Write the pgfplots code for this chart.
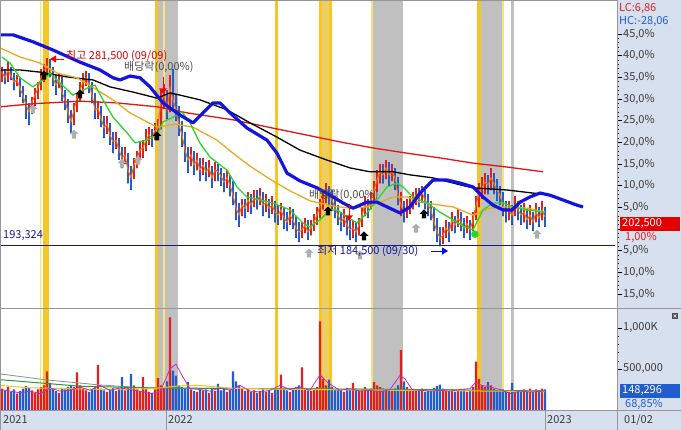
\documentclass[border=0pt]{standalone}
\usepackage{fontspec}
\setmainfont{Noto Sans CJK KR}
\usepackage{pgfplots}
\usepackage{pgfplotstable}
\pgfplotsset{compat=1.18}
\usetikzlibrary{arrows.meta}

\definecolor{cred}{RGB}{222,32,32}
\definecolor{cblue}{RGB}{34,92,205}
\definecolor{ma5}{RGB}{255,112,0}
\definecolor{ma20}{RGB}{40,215,40}
\definecolor{ma60}{RGB}{232,170,30}
\definecolor{ma240}{RGB}{228,20,20}
\definecolor{thickblue}{RGB}{20,20,225}
\definecolor{navy}{RGB}{25,25,140}
\definecolor{gold}{RGB}{246,198,36}
\definecolor{goldmid}{RGB}{238,206,100}
\definecolor{ylight}{RGB}{250,226,120}
\definecolor{band}{RGB}{192,192,192}
\definecolor{panel}{RGB}{214,224,238}
\definecolor{sep}{RGB}{150,150,150}
\definecolor{tick}{RGB}{60,60,60}
\definecolor{vmag}{RGB}{200,40,200}
\definecolor{vyel}{RGB}{240,200,20}
\definecolor{vgrn}{RGB}{40,150,60}
\definecolor{vgry}{RGB}{140,140,140}
\definecolor{arrgray}{RGB}{175,175,175}

\newcommand\tf{\fontsize{11}{12}\selectfont}

\pgfdeclareplotmark{uparr}{%
  \pgfpathmoveto{\pgfpoint{0pt}{\pgfplotmarksize}}%
  \pgfpathlineto{\pgfpoint{\pgfplotmarksize}{0pt}}%
  \pgfpathlineto{\pgfpoint{0.45\pgfplotmarksize}{0pt}}%
  \pgfpathlineto{\pgfpoint{0.45\pgfplotmarksize}{-\pgfplotmarksize}}%
  \pgfpathlineto{\pgfpoint{-0.45\pgfplotmarksize}{-\pgfplotmarksize}}%
  \pgfpathlineto{\pgfpoint{-0.45\pgfplotmarksize}{0pt}}%
  \pgfpathlineto{\pgfpoint{-\pgfplotmarksize}{0pt}}%
  \pgfpathclose\pgfusepathqfill}
\pgfdeclareplotmark{darr}{%
  \pgfpathmoveto{\pgfpoint{0pt}{-\pgfplotmarksize}}%
  \pgfpathlineto{\pgfpoint{\pgfplotmarksize}{0.4\pgfplotmarksize}}%
  \pgfpathlineto{\pgfpoint{-\pgfplotmarksize}{0.4\pgfplotmarksize}}%
  \pgfpathclose\pgfusepathqfill
  \pgfpathmoveto{\pgfpoint{0pt}{0pt}}%
  \pgfpathlineto{\pgfpoint{0pt}{3.2\pgfplotmarksize}}%
  \pgfusepathqstroke}

% x = position, c = close, lo/hi = candle range (percent), up = 1 rising, v = volume (K)
\pgfplotstableread{
x c lo hi up v
2 36.2 34.0 37.5 1 260
5 34.9 33.5 37.0 0 240
8 36.7 34.0 38.5 1 280
11 35.3 34.5 37.5 0 220
14 33.9 32.0 36.0 0 250
17 34.4 33.0 35.5 1 200
20 32.5 30.5 35.0 0 230
23 30.7 29.0 33.0 0 260
26 28.6 25.5 31.0 0 290
29 27.0 24.0 29.0 0 270
32 29.3 26.5 30.5 1 240
35 30.9 28.5 32.5 1 210
38 32.5 30.0 34.0 1 250
41 34.9 32.0 37.0 1 280
44 36.2 34.0 38.0 1 300
47 37.6 35.5 39.5 1 470
50 36.7 35.0 39.3 0 330
53 34.9 33.0 37.5 0 260
56 33.2 31.0 35.5 0 230
59 34.4 32.5 36.0 1 210
62 31.6 29.5 35.0 0 270
65 29.8 27.5 32.0 0 250
68 27.0 24.5 30.0 0 280
71 24.7 22.0 27.5 0 300
74 27.5 24.0 29.0 1 280
77 30.2 27.0 31.5 1 460
80 32.1 29.5 34.0 1 300
83 33.9 31.5 36.0 1 260
86 34.9 33.0 36.5 1 240
89 33.5 31.5 36.0 0 220
92 30.9 29.0 34.0 0 250
95 27.5 25.5 31.5 0 280
98 27.9 25.5 29.5 1 550
101 25.6 23.5 28.5 0 260
104 23.3 21.0 26.0 0 240
107 24.2 22.0 26.0 1 220
110 21.7 19.5 24.5 0 250
113 20.1 17.5 22.5 0 270
116 20.5 18.5 22.5 1 230
119 18.2 16.0 21.0 0 260
122 16.4 14.0 19.0 0 400
125 17.1 15.0 19.0 1 240
128 13.6 10.5 17.5 0 280
131 11.8 9.0 14.5 0 440
134 14.8 11.5 16.5 1 300
137 16.4 14.0 18.0 1 250
140 18.2 16.0 20.0 1 230
143 18.7 16.5 20.5 1 400
146 20.5 18.0 23.0 1 260
149 21.7 19.5 23.5 1 220
152 21.0 19.0 23.0 0 210
155 22.8 20.5 24.5 1 250
158 23.3 21.0 25.5 1 390
161 29.8 23.0 32.0 1 300
164 30.9 28.0 33.5 1 280
167 27.5 25.5 32.0 0 350
170 32.5 27.0 35.5 1 1130
173 29.8 27.5 37.0 0 480
176 27.5 25.0 31.0 0 420
179 24.0 21.5 28.5 0 300
182 21.7 19.0 25.0 0 280
185 18.2 15.5 22.5 0 260
188 15.9 13.0 19.0 0 340
191 17.1 14.5 19.0 1 250
194 14.8 12.5 18.0 0 230
197 15.9 13.5 17.5 1 220
200 13.6 11.0 16.5 0 260
203 14.8 12.5 16.5 1 240
206 13.2 11.0 15.5 0 250
209 14.1 12.0 16.0 1 210
212 11.8 9.5 14.5 0 270
215 13.6 11.0 15.5 1 230
218 13.2 11.0 15.0 0 320
221 12.2 10.0 14.0 0 240
224 10.8 8.5 13.0 0 260
227 11.8 9.5 13.5 1 220
230 10.2 7.5 12.5 0 250
233 7.8 5.5 11.0 0 470
236 4.8 2.0 8.5 0 350
239 3.2 0.5 6.0 0 300
242 5.5 3.0 7.0 1 260
245 4.8 2.5 7.0 0 230
248 6.7 4.0 8.5 1 250
251 5.5 3.5 8.0 0 220
254 7.2 5.0 9.0 1 240
257 6.7 4.5 9.0 0 210
260 7.6 5.5 9.5 1 230
263 5.5 3.0 8.5 0 250
266 6.2 4.0 8.0 1 220
269 4.8 2.5 7.0 0 240
272 5.5 3.5 7.5 1 210
275 3.9 1.5 6.5 0 260
278 3.2 1.0 5.5 0 250
281 4.4 2.0 6.0 1 430
284 2.5 0.0 5.0 0 270
287 1.6 -0.5 4.0 0 240
290 3.2 1.0 5.0 1 220
293 2.1 0.0 4.5 0 250
296 0.2 -2.0 3.0 0 280
299 -0.7 -3.0 1.5 0 300
302 -0.2 -2.0 1.5 1 520
305 0.9 -1.0 2.5 1 260
308 -0.7 -2.5 2.0 0 240
311 0.2 -1.5 2.0 1 230
314 1.6 -0.5 3.5 1 260
317 3.2 1.0 5.0 1 280
320 5.5 2.5 7.0 1 1080
323 6.7 4.5 8.5 1 380
326 8.5 6.0 10.5 1 300
329 7.8 5.5 10.0 0 370
332 6.7 4.5 9.0 0 280
335 4.8 2.5 7.5 0 250
338 3.2 1.0 5.5 0 260
341 1.6 -0.5 4.0 0 240
344 2.5 0.5 4.5 1 220
347 0.9 -1.5 3.0 0 270
350 -0.2 -2.5 2.0 0 250
353 0.2 -2.0 2.0 1 330
356 -0.7 -3.0 1.5 0 260
359 0.9 -1.5 2.5 1 240
362 3.2 0.5 5.0 1 250
365 5.5 3.0 7.5 1 280
368 4.8 2.5 7.0 0 230
371 6.7 4.5 8.5 1 260
374 9.0 6.0 11.0 1 340
377 11.3 8.5 13.5 1 300
380 13.2 10.5 15.0 1 280
383 12.5 10.5 15.0 0 260
386 14.1 11.5 16.0 1 250
389 12.5 10.0 15.5 0 240
392 13.2 11.0 15.0 1 230
395 11.8 9.0 14.0 0 260
398 7.8 5.5 12.0 0 300
401 5.5 3.0 8.5 1 730
404 3.9 1.5 6.5 0 350
407 4.8 2.5 7.0 1 280
410 5.5 3.5 7.5 1 250
413 6.7 4.5 8.5 1 240
416 7.8 5.5 9.5 1 230
419 7.2 5.0 9.5 0 250
422 8.5 6.0 10.0 1 260
425 6.7 4.5 9.0 0 220
428 5.5 3.0 8.0 0 240
431 4.4 2.0 6.5 0 250
434 1.6 -0.5 5.0 0 270
437 -0.7 -3.0 2.5 0 290
440 -2.1 -4.0 0.5 0 310
443 -1.4 -3.5 0.5 1 260
446 0.2 -2.0 2.0 1 240
449 -0.7 -3.0 1.5 0 230
452 2.1 -0.5 4.0 1 250
455 0.9 -1.0 3.0 0 220
458 2.5 0.5 4.5 1 240
461 1.6 -0.5 4.0 0 230
464 0.2 -2.0 2.5 0 250
467 1.2 -1.0 3.0 1 220
470 -0.2 -2.5 2.0 0 240
473 2.1 -0.5 4.0 1 280
476 5.5 2.0 7.5 1 590
479 8.5 5.0 10.5 1 380
482 9.5 7.0 12.0 1 300
485 10.8 8.0 13.0 1 280
488 10.2 8.0 12.5 0 340
491 11.8 9.0 14.0 1 300
494 10.4 8.0 13.0 0 260
497 9.0 6.5 11.5 0 240
500 7.8 5.5 10.0 0 230
503 5.5 3.0 8.5 0 250
506 3.9 1.5 6.5 0 240
509 4.4 2.0 6.5 1 220
512 3.2 1.0 5.5 0 330
515 5.5 3.0 7.5 1 240
518 4.4 2.0 6.5 0 220
521 3.2 1.0 5.5 0 230
524 3.9 1.5 6.0 1 250
527 2.1 0.0 4.5 0 240
530 3.2 1.0 5.5 1 260
533 1.6 -0.5 4.0 0 230
536 3.9 1.5 6.0 1 250
539 2.5 0.5 5.0 0 240
542 4.4 2.0 6.5 1 260
545 2.8 0.5 5.0 0 250
}\candles

\begin{document}
\begin{tikzpicture}[x=1pt,y=1pt]
\useasboundingbox (0,0) rectangle (681,430);
\fill[white] (0,0) rectangle (681,430);
\fill[panel] (617,0) rectangle (681,430);
\fill[panel] (0,0) rectangle (681,20);

% event bands
\fill[ylight] (40,20) rectangle (41.3,430);
\fill[gold] (43,20) rectangle (49,430);
\fill[gold] (155,20) rectangle (157.5,430);
\fill[band] (157.5,20) rectangle (178,430);
\fill[ylight] (163.3,20) rectangle (164.5,430);
\fill[gold] (275,20) rectangle (278,430);
\fill[gold] (319,20) rectangle (332,430);
\fill[goldmid] (322,20) rectangle (328.5,430);
\fill[ylight] (371,20) rectangle (372.5,430);
\fill[band] (372.5,20) rectangle (403,430);
\fill[gold] (477,20) rectangle (481,430);
\fill[band] (481,20) rectangle (502,430);
\fill[ylight] (502,20) rectangle (503.5,430);
\fill[band] (511,20) rectangle (514,430);

\begin{axis}[
  at={(0pt,122pt)}, anchor=south west, scale only axis,
  width=617pt, height=308pt,
  xmin=0, xmax=617, ymin=-18.23, ymax=52.85,
  axis x line=none, axis y line*=right,
  y axis line style={draw=none},
  ytick={-15,-10,-5,0,5,10,15,20,25,30,35,40,45},
  yticklabels={{15,0\%},{10,0\%},{5,0\%},{},{5,0\%},{10,0\%},{15,0\%},{20,0\%},{25,0\%},{30,0\%},{35,0\%},{40,0\%},{45,0\%}},
  minor y tick num=4,
  tick align=outside, major tick length=5pt, minor tick length=2pt,
  every tick/.style={tick},
  yticklabel style={font=\tf, text=tick, anchor=west, inner sep=1pt},
  unbounded coords=discard,
]
% candles: rows of the other colour are pushed out of the domain and dropped
\addplot[only marks, mark=*, mark size=0.01pt, mark options={draw=none, fill=none},
  restrict y to domain=-100:100,
  error bars/.cd, y dir=plus, y explicit, error mark=none,
  error bar style={cred, line width=1.2pt}]
  table[x=x, y expr=\thisrow{lo}+1000*(1-\thisrow{up}), y error expr=\thisrow{hi}-\thisrow{lo}] {\candles};
\addplot[only marks, mark=*, mark size=0.01pt, mark options={draw=none, fill=none},
  restrict y to domain=-100:100,
  error bars/.cd, y dir=plus, y explicit, error mark=none,
  error bar style={cblue, line width=1.2pt}]
  table[x=x, y expr=\thisrow{lo}+1000*\thisrow{up}, y error expr=\thisrow{hi}-\thisrow{lo}] {\candles};
\addplot[ma5, line width=1pt] table[x=x, y=c] {\candles};
\addplot[ma240, line width=1.3pt] coordinates {(0,28.2)(33,28.9)(80,29.5)(117,29.1)(157,28.2)(187,26.8)(233,25.2)(283,22.8)(340,20.1)(373,18.7)(407,17.5)(440,16.4)(473,15.2)(507,14.3)(543,13.2)};
\addplot[black, line width=1.3pt] coordinates {(0,36.7)(20,36.7)(40,36.2)(67,35.1)(93,34.4)(110,32.8)(133,31.6)(157,30.2)(170,31.4)(180,30.9)(200,29.8)(227,27.5)(250,24.5)(277,21.2)(300,18.2)(327,15.9)(350,14.1)(370,13.2)(393,13.2)(410,12.5)(433,11.8)(460,10.2)(473,9.5)(507,9.0)(540,8.1)};
\addplot[ma60, line width=1.3pt] coordinates {(0,41.8)(20,39.7)(40,38.3)(57,36.0)(77,34.9)(97,32.1)(113,29.8)(130,26.8)(143,25.2)(157,23.5)(175,24.2)(193,23.5)(217,20.5)(233,17.5)(250,14.5)(270,11.5)(290,8.8)(310,6.5)(333,5.3)(350,4.8)(367,5.1)(380,6.2)(393,7.4)(407,7.4)(420,6.2)(440,5.5)(453,5.1)(473,3.2)(490,4.8)(507,5.1)(527,4.8)(545,3.9)};
\addplot[ma20, line width=1.3pt] coordinates {(2,39.7)(10,38.3)(20,34.9)(33,32.8)(43,34.4)(50,36.0)(60,33.7)(73,30.9)(87,32.5)(95,33.2)(103,29.8)(113,25.8)(127,22.2)(135,19.9)(147,20.5)(157,21.7)(163,24.7)(173,25.8)(182,27.0)(190,24.5)(200,19.8)(210,16.6)(227,13.6)(237,9.7)(247,7.4)(260,6.7)(273,6.0)(290,4.4)(303,1.4)(310,0.5)(320,2.1)(330,4.4)(337,4.4)(347,2.8)(357,1.4)(367,3.7)(377,6.7)(387,9.7)(397,10.6)(403,9.7)(413,7.4)(427,6.0)(440,3.9)(453,2.1)(463,0.7)(473,-0.2)(483,4.4)(493,6.0)(503,6.0)(513,5.1)(527,4.4)(545,3.9)};
\addplot[thickblue, line width=3.2pt, line join=round] coordinates {(0,44.8)(13,44.8)(33,43.2)(53,41.3)(80,38.5)(100,36.7)(113,34.9)(120,34.4)(130,35.3)(140,34.9)(150,32.8)(163,29.1)(180,26.3)(193,24.5)(203,26.8)(213,29.1)(220,29.1)(230,26.8)(247,23.3)(267,20.5)(277,17.5)(287,12.9)(300,11.1)(317,9.5)(333,7.4)(343,6.0)(353,4.8)(367,6.2)(377,6.2)(387,5.1)(400,3.7)(410,5.1)(420,8.3)(433,11.3)(447,11.3)(460,10.6)(473,9.7)(483,7.4)(493,5.5)(503,4.4)(512,4.4)(520,6.2)(530,7.4)(540,8.3)(550,7.8)(563,6.7)(577,5.5)(583,5.1)};
\addplot[navy, line width=0.9pt] coordinates {(0,-3.7)(615,-3.7)};
\addplot[only marks, mark=uparr, mark size=4.5pt, black] coordinates {(44,35.5)(80,31.2)(157,21.5)(328,4.2)(364,-1.6)(424,3.5)};
\addplot[only marks, mark=uparr, mark size=4.5pt, arrgray] coordinates {(33,27.7)(74,21.9)(122,15.2)(138,15.9)(309,-5.5)(360,-6.0)(416,0.2)(537,-1.2)};
\addplot[only marks, mark=darr, mark size=4pt, red, line width=0.8pt] coordinates {(163,32.1)(349,2.8)};
\addplot[only marks, mark=*, mark size=3.5pt, ma20] coordinates {(475,-1.2)};
\end{axis}

\begin{axis}[
  at={(0pt,20pt)}, anchor=south west, scale only axis,
  width=617pt, height=102pt,
  xmin=0, xmax=617, ymin=0, ymax=1244,
  axis x line=none, axis y line*=right,
  y axis line style={draw=none},
  ytick={500,1000}, yticklabels={{500,000},{1,000K}},
  minor y tick num=4,
  tick align=outside, major tick length=5pt, minor tick length=2pt,
  every tick/.style={tick},
  yticklabel style={font=\tf, text=tick, anchor=west, inner sep=1pt},
  unbounded coords=discard,
]
\addplot[ybar, bar width=2.2pt, bar shift=0pt, fill=cred, draw=none, restrict y to domain=0:5000]
  table[x=x, y expr=\thisrow{v}+100000*(1-\thisrow{up})] {\candles};
\addplot[ybar, bar width=2.2pt, bar shift=0pt, fill=cblue, draw=none, restrict y to domain=0:5000]
  table[x=x, y expr=\thisrow{v}+100000*\thisrow{up}] {\candles};
\addplot[vgry, line width=0.8pt] coordinates {(0,440)(47,366)(100,305)(150,268)(250,262)(350,252)(450,245)(545,228)};
\addplot[vgrn, line width=1pt] coordinates {(0,370)(40,330)(80,290)(150,270)(200,265)(300,258)(400,252)(545,232)};
\addplot[vyel, line width=1pt] coordinates {(0,300)(30,270)(60,262)(100,252)(150,258)(180,295)(200,300)(230,265)(300,250)(400,240)(545,225)};
\addplot[vmag, line width=0.8pt] coordinates {(0,250)(10,230)(20,210)(30,230)(40,200)(50,270)(60,230)(70,240)(80,280)(90,240)(100,300)(110,240)(120,270)(130,250)(140,230)(150,200)(160,220)(170,500)(176,560)(182,420)(190,260)(200,250)(210,230)(220,270)(230,240)(240,300)(250,230)(260,220)(270,240)(280,300)(290,250)(300,280)(310,240)(320,430)(328,330)(340,240)(350,260)(360,230)(370,240)(380,220)(390,250)(400,420)(405,380)(412,250)(420,240)(430,230)(440,240)(450,230)(460,250)(470,260)(475,330)(482,300)(490,280)(500,250)(510,200)(520,230)(530,220)(545,230)};
\end{axis}

% frames and separators
\draw[sep, line width=0.8pt] (0,122) -- (681,122);
\draw[sep, line width=0.8pt] (0,20) -- (681,20);
\draw[sep, line width=0.8pt] (617,0) -- (617,430);
\draw[sep, line width=0.8pt] (0.4,0) -- (0.4,430);
\draw[sep, line width=0.6pt] (0,429.6) -- (617,429.6);
\draw[sep, line width=0.6pt] (166,0) -- (166,20);
\draw[sep, line width=0.6pt] (545,0) -- (545,20);

% annotations
\draw[red, line width=0.8pt, -{Triangle[length=6pt,width=7pt]}] (64,371) -- (50,371);
\node[anchor=west, text=red!85!black, font=\tf, inner sep=0pt] at (66,374) {최고 281,500 (09/09)};
\node[anchor=west, text=black!70, font=\tf, inner sep=0pt] at (124,362.5) {배당락(0,00\%)};
\node[anchor=west, text=black!70, font=\tf, inner sep=0pt] at (309,235) {배당락(0,00\%)};
\node[anchor=west, text=navy, font=\tf, inner sep=0pt] at (3,194) {193,324};
\node[anchor=west, text=navy!80!blue, font=\tf, inner sep=0pt] at (317,179) {최저 184,500 (09/30)};
\draw[blue, line width=0.8pt, -{Triangle[length=6pt,width=7pt]}] (431,179) -- (448,179);

% right panel labels
\node[anchor=west, text=cred, font=\tf, inner sep=0pt] at (619,422) {LC:6,86};
\node[anchor=west, text=cblue, font=\tf, inner sep=0pt] at (619,409) {HC:-28,06};
\fill[red!90!black] (620,199) rectangle (680,213);
\node[anchor=west, text=white, font=\tf, inner sep=0pt] at (622,206) {202,500};
\node[anchor=west, text=cred, font=\tf, inner sep=0pt] at (625,193) {1,00\%};
\fill[cblue] (620,32) rectangle (680,46);
\node[anchor=west, text=white, font=\tf, inner sep=0pt] at (622,39) {148,296};
\node[anchor=west, text=cblue, font=\tf, inner sep=0pt] at (625,26) {68,85\%};
\fill[black!70] (672,111) rectangle (678,117);
\draw[white, line width=0.5pt] (673.5,112.5) -- (676.5,115.5) (673.5,115.5) -- (676.5,112.5);

% date strip
\node[anchor=west, text=tick, font=\tf, inner sep=0pt] at (3,10) {2021};
\node[anchor=west, text=tick, font=\tf, inner sep=0pt] at (168,10) {2022};
\node[anchor=west, text=tick, font=\tf, inner sep=0pt] at (547,10) {2023};
\node[anchor=west, text=tick, font=\tf, inner sep=0pt] at (624,10) {01/02};
\end{tikzpicture}
\end{document}
